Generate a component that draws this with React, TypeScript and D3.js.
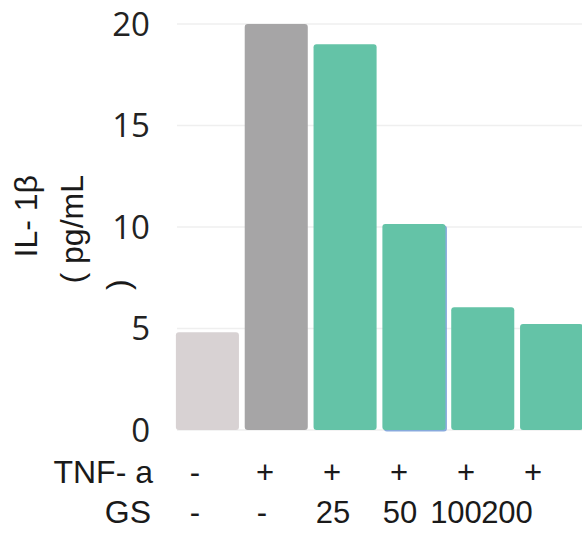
import React from "react";
import * as d3 from "d3";

const groups = ["ctrl", "tnf", "gs25", "gs50", "gs100", "gs200"];
const values = [4.82, 20.0, 19.0, 10.15, 6.05, 5.22];
const barColors = ["#d8d2d3", "#a6a5a6", "#64c3a7", "#64c3a7", "#64c3a7", "#64c3a7"];
const tnfLabels = ["-", "+", "+", "+", "+", "+"];
const gsLabels = ["-", "-", "25", "50", "100", "200"];
const gsNudge = [0, 0, 0, 0, -11, -27];
const yTicks = [0, 5, 10, 15, 20];
const yLabelLines = ["IL- 1β", "( pg/mL", ")"];

const W = 582;
const H = 544;

export default function App() {
  const x = d3.scaleBand<string>().domain(groups).range([173, 586]).paddingInner(0.084).paddingOuter(0.042);
  const y = d3.scaleLinear().domain([0, 20]).range([430, 24]);
  const col = d3.scalePoint<string>().domain(groups).range([195, 530]);
  const arial = "'Liberation Sans', Arial, sans-serif";
  const open = "'Open Sans', 'Noto Sans', sans-serif";

  return (
    <svg width={W} height={H} style={{ position: "absolute", left: 0, top: 0, background: "#fff" }}>
      {yTicks.map((t) => (
        <g key={t}>
          <line x1={177} x2={W} y1={y(t)} y2={y(t)} stroke="#efefef" strokeWidth={1.5} />
          <text x={150} y={y(t)} dy="0.36em" textAnchor="end" fontFamily={open} fontSize={33} fill="#222">
            {t}
          </text>
        </g>
      ))}
      {groups.map((g, i) => {
        const x0 = x(g) as number;
        const y0 = y(values[i]);
        const h = y(0) - y0;
        return (
          <g key={g}>
            {g === "gs50" && (
              <rect x={x0 + 1.5} y={y0 + 1.5} width={x.bandwidth()} height={h} rx={3} fill="#6d97d6" opacity={0.8} />
            )}
            <rect x={x0} y={y0} width={x.bandwidth()} height={h} rx={3} fill={barColors[i]} />
          </g>
        );
      })}
      <g fontFamily={arial} fill="#1a1a1a">
        <text x={37} y={175} transform={`rotate(-90 37 175)`} textAnchor="end" fontSize={32}>
          {yLabelLines[0]}
        </text>
        <text x={83} y={175} transform={`rotate(-90 83 175)`} textAnchor="end" fontSize={32}>
          {yLabelLines[1]}
        </text>
        <text x={129} y={290} transform={`rotate(-90 129 290)`} textAnchor="start" fontSize={32}>
          {yLabelLines[2]}
        </text>
      </g>
      <g fontFamily={arial} fill="#1a1a1a" fontSize={31}>
        <text x={153} y={483} textAnchor="end" fontSize={32}>TNF- a</text>
        <text x={151} y={523} textAnchor="end" fontSize={32}>GS</text>
        {groups.map((g, i) => (
          <text key={"t" + g} x={(col(g) as number) + (i === 0 ? 0 : 3)} y={483} textAnchor="middle">
            {tnfLabels[i]}
          </text>
        ))}
        {groups.map((g, i) => (
          <text key={"g" + g} x={(col(g) as number) + gsNudge[i] + (i >= 2 ? 4 : 0)} y={523} textAnchor="middle">
            {gsLabels[i]}
          </text>
        ))}
      </g>
    </svg>
  );
}
